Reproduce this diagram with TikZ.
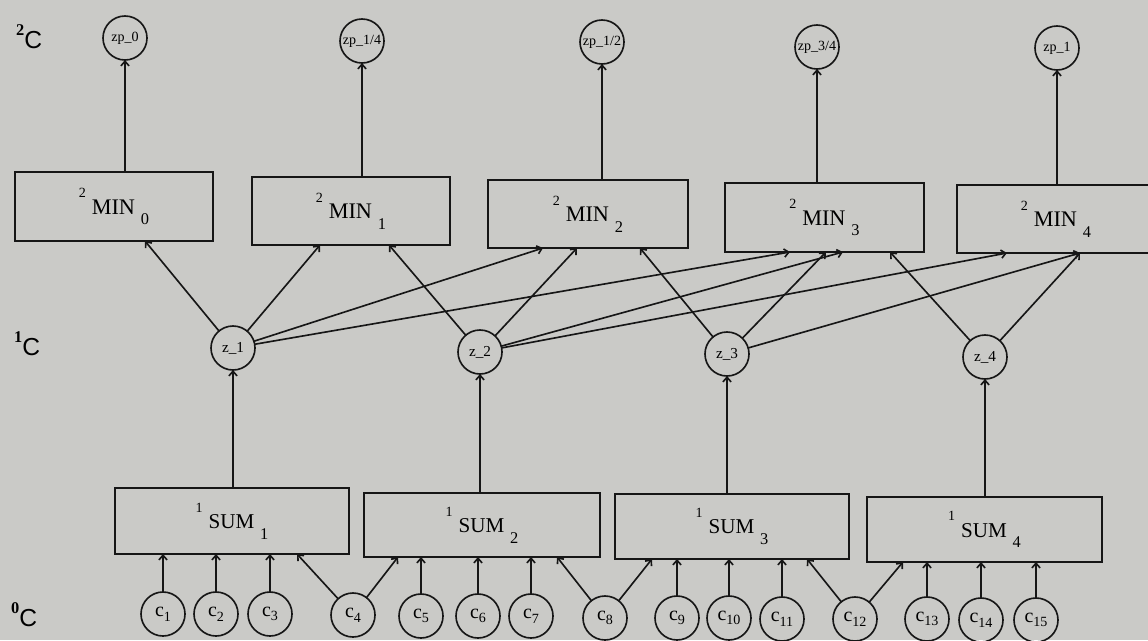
\documentclass[tikz,border=0pt]{standalone}
\usepackage{fontspec}
\setmainfont{Liberation Serif}
\newfontfamily\levelsans{Liberation Sans}
\usetikzlibrary{arrows.meta}

\definecolor{paper}{RGB}{202,202,199}
\definecolor{ink}{RGB}{22,22,22}

% operator label: raised level index, name, lowered number
\newcommand\oplabel[3]{\raisebox{14pt}{\fontsize{12}{12}\selectfont #1}\hspace{5pt}#2\hspace{5pt}\raisebox{-9pt}{\fontsize{14}{14}\selectfont #3}}
% input variable c_i
\newcommand\cvar[1]{c\raisebox{-4pt}{\fontsize{12}{12}\selectfont #1}}
% level marker on the left margin
\newcommand\levelmark[1]{\raisebox{11pt}{\bfseries\fontsize{14}{14}\selectfont #1}{\levelsans\fontsize{21}{21}\selectfont C}}

\begin{document}
\begin{tikzpicture}[x=0.03cm, y=-0.03cm,
  opbox/.style={draw=ink, line width=1.5pt, inner sep=0pt, outer sep=0pt},
  minbox/.style={opbox, font=\fontsize{19}{19}\selectfont},
  sumbox/.style={opbox, font=\fontsize{18}{18}\selectfont},
  state/.style={circle, draw=ink, line width=1.4pt, minimum size=1.32cm,
                inner sep=0pt, outer sep=0pt},
  link/.style={-{Straight Barb[length=4pt,width=7pt]}, draw=ink, line width=1.4pt},
  levellabel/.style={anchor=base west, inner sep=0pt}]

% paper
\fill[paper] (0,0) rectangle (1148,640);
\useasboundingbox (0,0) rectangle (1148,640);

% level markers
\node[levellabel] (lv2) at (16,48)  {\levelmark{2}};
\node[levellabel] (lv1) at (14,355) {\levelmark{1}};
\node[levellabel] (lv0) at (11,626) {\levelmark{0}};

% level 2 outputs
\begin{scope}[every node/.append style={font=\fontsize{12}{12}\selectfont}]
\node[state] (zp0)  at (125,38)  {zp\_0};
\node[state] (zp14) at (362,41)  {zp\_1/4};
\node[state] (zp12) at (602,42)  {zp\_1/2};
\node[state] (zp34) at (817,47)  {zp\_3/4};
\node[state] (zp1)  at (1057,48) {zp\_1};
\end{scope}

% level 2 operators
\node[minbox, minimum width=5.94cm, minimum height=2.07cm] (min0) at (114,206.5) {\oplabel{2}{MIN}{0}};
\node[minbox, minimum width=5.94cm, minimum height=2.04cm] (min1) at (351,211)   {\oplabel{2}{MIN}{1}};
\node[minbox, minimum width=6.00cm, minimum height=2.04cm] (min2) at (588,214)   {\oplabel{2}{MIN}{2}};
\node[minbox, minimum width=5.97cm, minimum height=2.07cm] (min3) at (824.5,217.5) {\oplabel{2}{MIN}{3}};
\node[minbox, minimum width=5.94cm, minimum height=2.04cm] (min4) at (1056,219)  {\oplabel{2}{MIN}{4}};

% level 1 states
\begin{scope}[every node/.append style={font=\fontsize{13}{13}\selectfont}]
\node[state] (z1) at (233,348) {z\_1};
\node[state] (z2) at (480,352) {z\_2};
\node[state] (z3) at (727,354) {z\_3};
\node[state] (z4) at (985,357) {z\_4};
\end{scope}

% level 1 operators
\node[sumbox, minimum width=7.02cm, minimum height=1.98cm] (sum1) at (232,521)   {\oplabel{1}{SUM}{1}};
\node[sumbox, minimum width=7.08cm, minimum height=1.92cm] (sum2) at (482,525)   {\oplabel{1}{SUM}{2}};
\node[sumbox, minimum width=7.02cm, minimum height=1.95cm] (sum3) at (732,526.5) {\oplabel{1}{SUM}{3}};
\node[sumbox, minimum width=7.05cm, minimum height=1.95cm] (sum4) at (984.5,529.5) {\oplabel{1}{SUM}{4}};

% level 0 inputs
\begin{scope}[every node/.append style={font=\fontsize{17}{17}\selectfont}]
\node[state] (c1)  at (163,614)  {\cvar{1}};
\node[state] (c2)  at (216,614)  {\cvar{2}};
\node[state] (c3)  at (270,614)  {\cvar{3}};
\node[state] (c4)  at (353,615)  {\cvar{4}};
\node[state] (c5)  at (421,616)  {\cvar{5}};
\node[state] (c6)  at (478,616)  {\cvar{6}};
\node[state] (c7)  at (531,616)  {\cvar{7}};
\node[state] (c8)  at (605,618)  {\cvar{8}};
\node[state] (c9)  at (677,618)  {\cvar{9}};
\node[state] (c10) at (729,618)  {\cvar{10}};
\node[state] (c11) at (782,619)  {\cvar{11}};
\node[state] (c12) at (855,619)  {\cvar{12}};
\node[state] (c13) at (927,619)  {\cvar{13}};
\node[state] (c14) at (981,620)  {\cvar{14}};
\node[state] (c15) at (1036,620) {\cvar{15}};
\end{scope}

% inputs -> sums
\draw[link] (c1) -- (c1 |- sum1.south);
\draw[link] (c2) -- (c2 |- sum1.south);
\draw[link] (c3) -- (c3 |- sum1.south);
\draw[link] (c4) -- ([xshift=1.95cm]sum1.south);
\draw[link] (c4) -- ([xshift=-2.52cm]sum2.south);
\draw[link] (c5) -- (c5 |- sum2.south);
\draw[link] (c6) -- (c6 |- sum2.south);
\draw[link] (c7) -- (c7 |- sum2.south);
\draw[link] (c8) -- ([xshift=2.25cm]sum2.south);
\draw[link] (c8) -- ([xshift=-2.4cm]sum3.south);
\draw[link] (c9) -- (c9 |- sum3.south);
\draw[link] (c10) -- (c10 |- sum3.south);
\draw[link] (c11) -- (c11 |- sum3.south);
\draw[link] (c12) -- ([xshift=2.25cm]sum3.south);
\draw[link] (c12) -- ([xshift=-2.445cm]sum4.south);
\draw[link] (c13) -- (c13 |- sum4.south);
\draw[link] (c14) -- (c14 |- sum4.south);
\draw[link] (c15) -- (c15 |- sum4.south);

% sums -> level 1 states
\draw[link] (sum1.north -| z1) -- (z1);
\draw[link] (sum2.north -| z2) -- (z2);
\draw[link] (sum3.north -| z3) -- (z3);
\draw[link] (sum4.north -| z4) -- (z4);

% level 1 states -> minimum operators
\draw[link] (z1) -- ([xshift=0.93cm]min0.south);
\draw[link] (z1) -- ([xshift=-0.93cm]min1.south);
\draw[link] (z1) -- ([xshift=-1.35cm]min2.south);
\draw[link] (z1) -- ([xshift=-1.035cm]min3.south);
\draw[link] (z2) -- ([xshift=1.14cm]min1.south);
\draw[link] (z2) -- ([xshift=-0.33cm]min2.south);
\draw[link] (z2) -- ([xshift=0.555cm]min3.south);
\draw[link] (z2) -- ([xshift=-1.47cm]min4.south);
\draw[link] (z3) -- ([xshift=1.56cm]min2.south);
\draw[link] (z3) -- ([xshift=0.045cm]min3.south);
\draw[link] (z3) -- ([xshift=0.72cm]min4.south);
\draw[link] (z4) -- ([xshift=1.965cm]min3.south);
\draw[link] (z4) -- ([xshift=0.72cm]min4.south);

% minimum operators -> level 2 outputs
\draw[link] (min0.north -| zp0) -- (zp0);
\draw[link] (min1.north -| zp14) -- (zp14);
\draw[link] (min2.north -| zp12) -- (zp12);
\draw[link] (min3.north -| zp34) -- (zp34);
\draw[link] (min4.north -| zp1) -- (zp1);

\end{tikzpicture}
\end{document}
